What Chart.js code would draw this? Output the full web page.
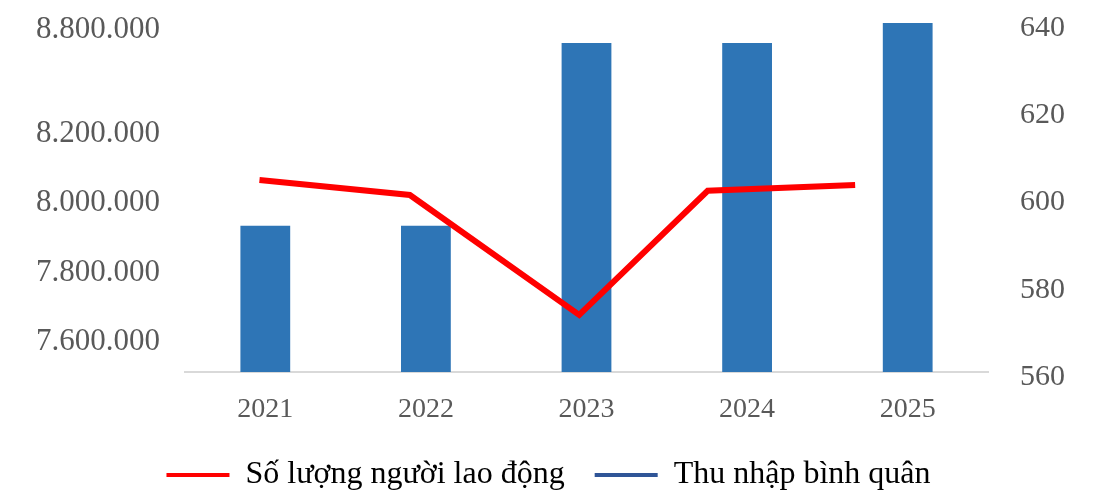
<!DOCTYPE html>
<html lang="vi">
<head>
<meta charset="UTF-8">
<title>Thu nhập bình quân và số lượng người lao động</title>
<script src="https://cdn.jsdelivr.net/npm/chart.js"></script>
<style>
  html, body { margin: 0; padding: 0; background: #fff; }
  #wrap { width: 1103px; height: 491px; }
</style>
</head>
<body>
<div id="wrap"><canvas id="chart" width="1103" height="491"></canvas></div>
<script>
// categories
const years = ['2021', '2022', '2023', '2024', '2025'];
// Thu nhập bình quân (bars, right axis)
const thuNhap = [593.5, 593.5, 635.4, 635.4, 640];
// Số lượng người lao động (red line, left axis), x read as fractional year position
const laoDongX = [2020.76, 2021.79, 2022.95, 2023.83, 2024.84];
const laoDong = [8067000, 8024000, 7678000, 8036000, 8053000];
// left axis tick labels as printed on the picture
const leftTickValues = [7600000, 7800000, 8000000, 8200000, 8500000];
const leftTickLabels = ['7.600.000', '7.800.000', '8.000.000', '8.200.000', '8.800.000'];

const serif = '"Liberation Serif", "Times New Roman", serif';
const grey = '#595959';

// drop the label overflow padding so the plot area follows layout.padding only
const noPad = (axis) => {
  axis.paddingTop = 0; axis.paddingBottom = 0;
  axis.paddingLeft = 0; axis.paddingRight = 0;
};

const ctx = document.getElementById('chart').getContext('2d');
new Chart(ctx, {
  type: 'bar',
  data: {
    labels: years,
    datasets: [
      {
        type: 'line',
        label: 'Số lượng người lao động',
        data: laoDongX.map((x, i) => ({ x: x, y: laoDong[i] })),
        xAxisID: 'x2',
        yAxisID: 'yL',
        borderColor: '#FF0000',
        backgroundColor: '#FF0000',
        borderWidth: 6,
        pointRadius: 0,
        tension: 0,
        order: 0
      },
      {
        label: 'Thu nhập bình quân',
        data: thuNhap,
        xAxisID: 'x',
        yAxisID: 'y',
        backgroundColor: '#2E75B6',
        borderWidth: 0,
        grouped: false,
        barPercentage: 0.31,
        categoryPercentage: 1,
        order: 1
      }
    ]
  },
  options: {
    responsive: false,
    animation: false,
    layout: { autoPadding: false, padding: { left: 30, right: 36, top: 23, bottom: -10 } },
    scales: {
      x: {
        grid: { display: false, drawTicks: false },
        border: { color: '#D9D9D9', width: 2 },
        ticks: { color: grey, font: { family: serif, size: 28 }, padding: 21 },
        afterFit: (axis) => { axis.height = 57; noPad(axis); }
      },
      x2: {
        type: 'linear',
        display: false,
        min: 2020.5,
        max: 2025.5
      },
      yL: {
        type: 'linear',
        position: 'left',
        min: 7513500,
        max: 8520000,
        grid: { display: false, drawTicks: false },
        border: { display: false },
        afterBuildTicks: (axis) => { axis.ticks = leftTickValues.map(v => ({ value: v })); },
        afterFit: (axis) => { axis.width = 155; noPad(axis); },
        ticks: {
          color: grey,
          font: { family: serif, size: 31 },
          padding: 25,
          callback: (v, i) => leftTickLabels[i]
        }
      },
      y: {
        type: 'linear',
        position: 'right',
        min: 560,
        max: 640,
        grid: { display: false, drawTicks: false },
        border: { display: false },
        afterFit: (axis) => { axis.width = 79; noPad(axis); },
        ticks: {
          stepSize: 20,
          color: grey,
          font: { family: serif, size: 30 },
          padding: 32,
          labelOffset: 5
        }
      }
    },
    plugins: {
      tooltip: { enabled: false },
      legend: {
        position: 'bottom',
        labels: {
          color: '#000',
          font: { family: serif, size: 32 },
          usePointStyle: true,
          pointStyleWidth: 63,
          boxWidth: 63,
          padding: 30,
          generateLabels: (chart) => [
            { text: 'Số lượng người lao động', pointStyle: 'line', strokeStyle: '#FF0000', fillStyle: '#FF0000', lineWidth: 4, datasetIndex: 0 },
            { text: 'Thu nhập bình quân', pointStyle: 'line', strokeStyle: '#2F5597', fillStyle: '#2F5597', lineWidth: 4, datasetIndex: 1 }
          ]
        }
      }
    }
  }
});
</script>
</body>
</html>
